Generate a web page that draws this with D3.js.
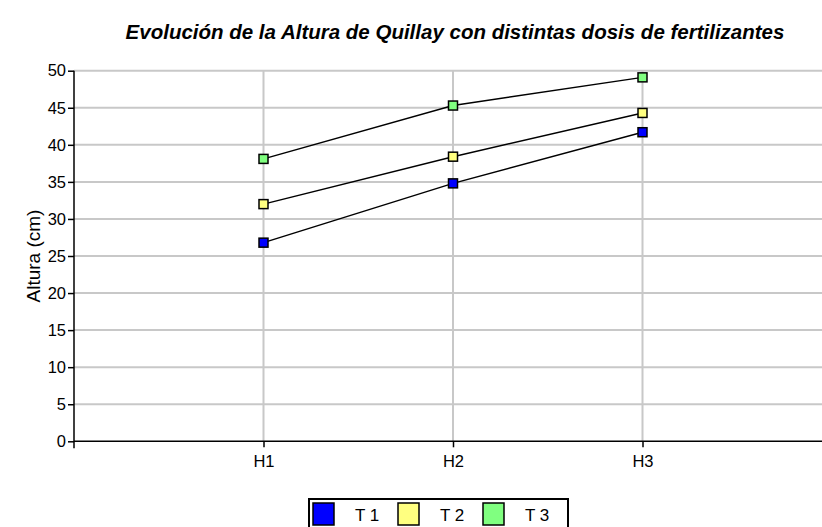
<!DOCTYPE html>
<html>
<head>
<meta charset="utf-8">
<script src="https://cdn.jsdelivr.net/npm/d3@7"></script>
<style>
  html, body { margin: 0; padding: 0; background: #fff; }
  svg { display: block; font-family: Arial, "Liberation Sans", sans-serif; }
</style>
</head>
<body>
<svg id="chart" width="822" height="527"></svg>
<script>
// Categories (measurement times) and mean height per treatment
const categories = ["H1", "H2", "H3"];
const seriesNames = ["T 1", "T 2", "T 3"];
const t1 = [26.8, 34.8, 41.7];
const t2 = [32.0, 38.4, 44.3];
const t3 = [38.1, 45.3, 49.1];
const yTicks = [0, 5, 10, 15, 20, 25, 30, 35, 40, 45, 50];
const seriesColors = ["#0000ff", "#ffff80", "#80ff80"];

const titleText = "Evolución de la Altura de Quillay con distintas dosis de fertilizantes";
const yLabel = "Altura (cm)";

const series = [t1, t2, t3].map((values, i) => ({
  name: seriesNames[i], color: seriesColors[i], values
}));

const svg = d3.select("#chart");
const plotLeft = 74, plotRight = 832, plotTop = 70.7, plotBottom = 441.3;

// Category positions sit on integer slots 1..3 of a 0..4 axis
const x = d3.scaleLinear().domain([0, categories.length + 1]).range([plotLeft, plotRight]);
const y = d3.scaleLinear().domain([0, 50]).range([plotBottom, plotTop]);

// Gridlines
const grid = svg.append("g").attr("stroke", "#c8c8c8").attr("stroke-width", 2);
grid.selectAll("line.h").data(yTicks.filter(d => d > 0)).join("line")
  .attr("x1", plotLeft).attr("x2", 822)
  .attr("y1", d => y(d)).attr("y2", d => y(d));
grid.selectAll("line.v").data(categories.map((c, i) => i + 1)).join("line")
  .attr("x1", d => x(d)).attr("x2", d => x(d))
  .attr("y1", plotTop).attr("y2", plotBottom);

// Y axis
const yAxis = svg.append("g")
  .attr("transform", `translate(${plotLeft},0)`)
  .call(d3.axisLeft(y).tickValues(yTicks).tickSize(6).tickPadding(2));
yAxis.select(".domain").remove();
yAxis.append("line").attr("x1", 0).attr("x2", 0)
  .attr("y1", plotTop).attr("y2", plotBottom + 7).attr("stroke", "#000").attr("stroke-width", 1.5);
yAxis.selectAll(".tick line").attr("stroke", "#000").attr("stroke-width", 1.5);
yAxis.selectAll(".tick text").attr("font-size", 16.5).attr("fill", "#000")
  .attr("font-family", "Arial, 'Liberation Sans', sans-serif");

// X axis
const xAxis = svg.append("g")
  .attr("transform", `translate(0,${plotBottom})`)
  .call(d3.axisBottom(x).tickValues(categories.map((c, i) => i + 1))
    .tickFormat(d => categories[d - 1]).tickSize(6).tickPadding(8));
xAxis.select(".domain").remove();
xAxis.append("line").attr("x1", plotLeft).attr("x2", 822)
  .attr("y1", 0).attr("y2", 0).attr("stroke", "#000").attr("stroke-width", 1.5);
xAxis.selectAll(".tick line").attr("stroke", "#000").attr("stroke-width", 1.5);
xAxis.selectAll(".tick text").attr("font-size", 16.5).attr("fill", "#000")
  .attr("font-family", "Arial, 'Liberation Sans', sans-serif");

// Lines and square markers
const line = d3.line().x((d, i) => x(i + 1)).y(d => y(d));
const gS = svg.append("g");
series.forEach(s => {
  gS.append("path").datum(s.values).attr("d", line)
    .attr("fill", "none").attr("stroke", "#000").attr("stroke-width", 1.5);
});
series.forEach(s => {
  gS.append("g").selectAll("rect").data(s.values).join("rect")
    .attr("x", (d, i) => x(i + 1) - 4.5).attr("y", d => y(d) - 4.5)
    .attr("width", 9).attr("height", 9)
    .attr("fill", s.color).attr("stroke", "#000").attr("stroke-width", 1.5);
});

// Title
svg.append("text").attr("x", 455).attr("y", 39).attr("text-anchor", "middle")
  .attr("font-size", 20.5).attr("font-weight", "bold").attr("font-style", "italic")
  .text(titleText);

// Y label
svg.append("text").attr("transform", `translate(40,${(plotTop + plotBottom) / 2}) rotate(-90)`)
  .attr("text-anchor", "middle").attr("font-size", 19).text(yLabel);

// Legend
const lg = svg.append("g");
lg.append("rect").attr("x", 309).attr("y", 499).attr("width", 259).attr("height", 40)
  .attr("fill", "#fff").attr("stroke", "#000").attr("stroke-width", 2);
series.forEach((s, i) => {
  const gx = 313 + i * 85;
  lg.append("rect").attr("x", gx).attr("y", 503).attr("width", 21).attr("height", 22)
    .attr("fill", s.color).attr("stroke", "#000").attr("stroke-width", 1.5);
  lg.append("text").attr("x", gx + 42).attr("y", 521).attr("font-size", 17).text(s.name);
});
</script>
</body>
</html>
